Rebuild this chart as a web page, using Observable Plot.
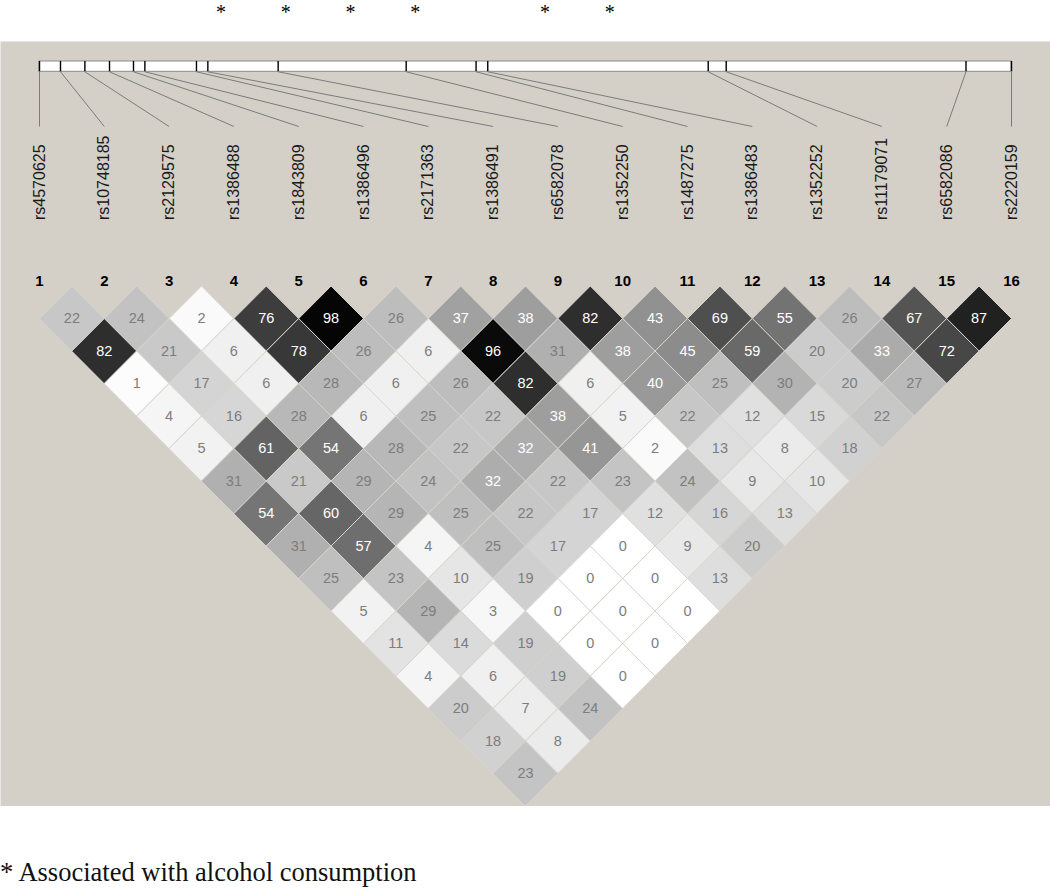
<!DOCTYPE html>
<html>
<head>
<meta charset="utf-8">
<script src="https://cdn.jsdelivr.net/npm/d3@7"></script>
<script src="https://cdn.jsdelivr.net/npm/@observablehq/plot@0.6"></script>
<style>
  html, body { margin: 0; padding: 0; background: #ffffff; }
  #chart { position: absolute; left: 0; top: 0; }
  #caption { position: absolute; left: 0; top: 859px; font-family: "Liberation Serif", "DejaVu Serif", serif; font-size: 26.5px; line-height: 27px; color: #111; white-space: nowrap; }
</style>
</head>
<body>
<div id="chart"></div>
<div id="caption">* Associated with alcohol consumption</div>
<script>
// ---------------- DATA ----------------
const snps = ["rs4570625","rs10748185","rs2129575","rs1386488","rs1843809","rs1386496","rs2171363","rs1386491",
              "rs6582078","rs1352250","rs1487275","rs1386483","rs1352252","rs11179071","rs6582086","rs2220159"];
// physical positions along the gene (kb, estimated from the map bar)
const positionsKb = [0, 2.03, 4.39, 6.77, 9.09, 10.19, 15.18, 16.28, 23.08, 35.46, 42.22, 43.35, 64.67, 66.41, 89.60, 94.0];
// SNPs associated with alcohol consumption (marked with *)
const associated = ["rs1386488","rs1843809","rs1386496","rs2171363","rs6582078","rs1352250"];
// r² x 100, row k = pairs of SNPs that are k+1 apart (i, i+k+1)
const r2ByDistance = [
  [22,24,2,76,98,26,37,38,82,43,69,55,26,67,87],
  [82,21,6,78,26,6,96,31,38,45,59,20,33,72],
  [1,17,6,28,6,26,82,6,40,25,30,20,27],
  [4,16,28,6,25,22,38,5,22,12,15,22],
  [5,61,54,28,22,32,41,2,13,8,18],
  [31,21,29,24,32,22,23,24,9,10],
  [54,60,29,25,22,17,12,16,13],
  [31,57,4,25,17,0,9,20],
  [25,23,10,19,0,0,13],
  [5,29,3,0,0,0],
  [11,14,19,0,0],
  [4,6,19,0],
  [20,7,24],
  [18,8],
  [23]
];

// ---------------- LAYOUT (row units of the triangle) ----------------
const ASTERISK_Y = -8.66;
const BAR_TOP = -6.908;
const BAR_BOTTOM = -6.591;
const LINK_END = -4.908;
const LABEL_Y = -2.03;
const NUMBER_Y = -0.14;

// ---------------- DERIVED ----------------
const cells = [];
r2ByDistance.forEach((row, k) => row.forEach((v, i) => cells.push({a: i + 1, b: i + 2 + k, r2: v})));
cells.forEach(c => { c.cx = (c.a + c.b) / 2; c.d = c.b - c.a; });
const poly = cells.flatMap((c, id) =>
  [[c.cx - 0.5, c.d], [c.cx, c.d - 1], [c.cx + 0.5, c.d], [c.cx, c.d + 1]]
    .map(([x, y]) => ({id, x, y, r2: c.r2})));

const p0 = positionsKb[0], p1 = positionsKb[positionsKb.length - 1];
const barX = p => 1 + (snps.length - 1) * (p - p0) / (p1 - p0);
const snpIndex = name => snps.indexOf(name) + 1;
const markers = snps.map((name, i) => ({name, i: i + 1, pos: positionsKb[i]}));

const font = "'Liberation Sans', Arial, sans-serif";

const chart = Plot.plot({
  width: 1050,
  height: 806,
  marginTop: 41, marginBottom: 0, marginLeft: 0, marginRight: 0,
  x: {domain: [1, 16], range: [39, 1011], axis: null},
  y: {domain: [0, 16], range: [285.5, 805.5], axis: null},
  color: {type: "linear", domain: [0, 100], range: ["#ffffff", "#000000"], interpolate: "rgb"},
  style: {background: "#ffffff", fontFamily: font},
  marks: [
    Plot.frame({fill: "#d4d0c8", stroke: "none"}),
    // physical map bar
    Plot.rect([{}], {x1: barX(p0), x2: barX(p1), y1: BAR_TOP, y2: BAR_BOTTOM, fill: "white", stroke: "#8a8a8a", strokeWidth: 1}),
    Plot.ruleX(markers, {x: d => barX(d.pos), y1: BAR_TOP, y2: BAR_BOTTOM, stroke: "#000", strokeWidth: 1.4}),
    Plot.link(markers, {x1: d => barX(d.pos), y1: BAR_BOTTOM, x2: "i", y2: LINK_END, stroke: "#7c7c7c", strokeWidth: 1}),
    // asterisks
    Plot.text(associated, {x: d => snpIndex(d), y: ASTERISK_Y, text: () => "*", dx: -13, fontSize: 20,
      lineAnchor: "top", fontFamily: "'Liberation Serif', serif", fill: "#000"}),
    // SNP names
    Plot.text(markers, {x: "i", y: LABEL_Y, text: "name", rotate: -90, textAnchor: "start", lineAnchor: "middle",
      fontSize: 16, fill: "#1a1a1a"}),
    // SNP numbers
    Plot.text(markers, {x: "i", y: NUMBER_Y, text: d => String(d.i), fontSize: 15, fontWeight: "bold", fill: "#000"}),
    // LD cells
    Plot.line(poly, {x: "x", y: "y", z: "id", fill: "r2", stroke: "#d8d5ce", strokeWidth: 1, curve: "linear-closed"}),
    Plot.text(cells.filter(c => c.r2 >= 32), {x: "cx", y: "d", text: d => String(d.r2), fill: "#ffffff", fontSize: 14.5}),
    Plot.text(cells.filter(c => c.r2 < 32), {x: "cx", y: "d", text: d => String(d.r2), fill: "#7d7d7d", fontSize: 14.5})
  ]
});
document.getElementById("chart").appendChild(chart);
</script>
</body>
</html>
